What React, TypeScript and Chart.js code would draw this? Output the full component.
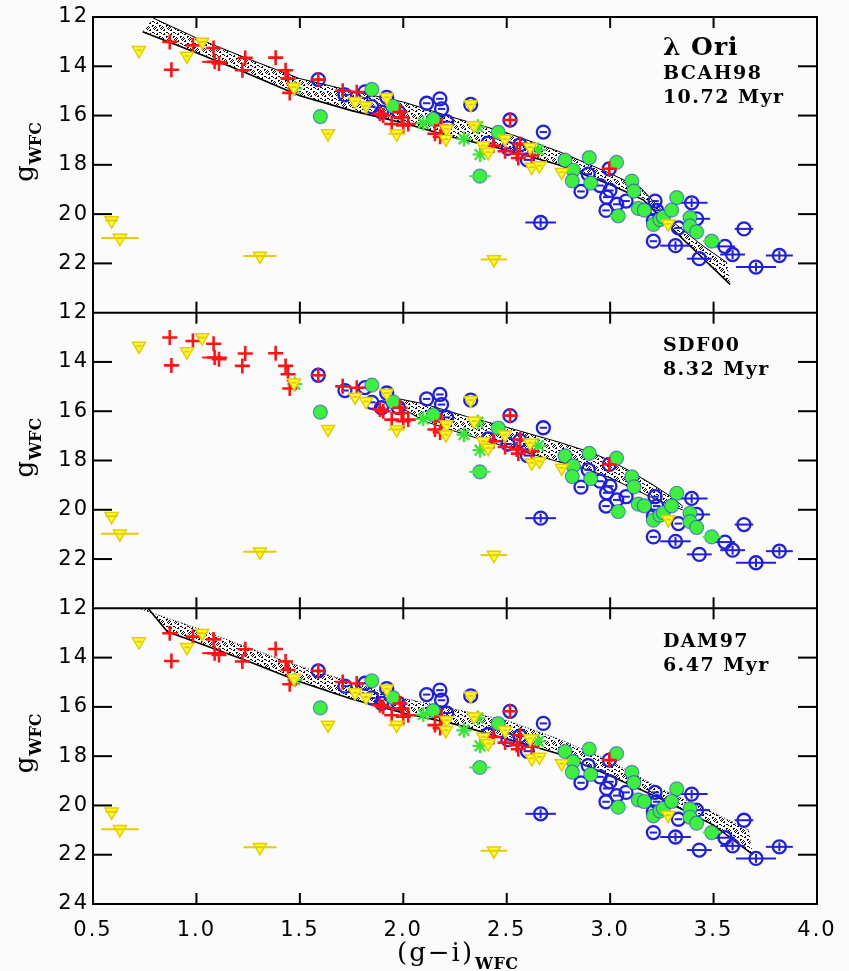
import React, { useEffect, useRef } from 'react';
import { Chart, registerables } from 'chart.js';
Chart.register(...registerables);

// ---------- axis ----------
const X_MIN = 0.5;
const X_MAX = 4.0;
const X_STEP = 0.5;
const Y_MIN = 12;
const Y_MAX = 24;
const Y_STEP = 2;

// ---------- panels (top -> bottom) ----------
const panelIds = ['yTop', 'yMid', 'yBot'];
const modelNames = ['BCAH98', 'SDF00', 'DAM97'];
const modelAges = ['10.72 Myr', '8.32 Myr', '6.47 Myr'];
const clusterName = 'λ Ori';

// ---------- observed stars (same in every panel) ----------
// red crosses
const redX = [0.871, 0.983, 1.083, 0.879, 1.088, 1.109, 1.236, 1.222, 1.383, 1.431, 1.443, 1.451, 1.589, 1.707, 1.775, 1.887, 1.903, 1.984, 1.992, 1.944, 2.0, 2.024, 2.153, 2.185, 2.178, 2.435, 2.492, 2.548, 2.516, 2.564, 2.556, 2.621, 2.996];
const redY = [13.01, 13.15, 13.26, 14.14, 13.82, 13.89, 13.66, 14.16, 13.65, 14.16, 14.5, 15.08, 14.54, 14.99, 15.05, 15.93, 16.0, 15.86, 16.07, 16.34, 16.4, 16.34, 16.74, 16.4, 16.86, 17.22, 17.45, 17.55, 16.18, 17.15, 17.72, 17.62, 18.16];
const redErr = [0, 0, 0, 0, 0.06, 0, 0, 0, 0, 0, 0, 0, 0, 0, 0, 0, 0, 0, 0, 0, 0, 0, 0, 0, 0, 0, 0, 0, 0, 0, 0, 0, 0];

// yellow inverted triangles
const yelX = [0.722, 1.028, 0.954, 1.472, 1.636, 1.767, 1.82, 1.92, 1.968, 2.326, 2.209, 2.206, 2.342, 2.387, 2.411, 2.492, 2.613, 2.621, 2.658, 2.766, 3.281, 0.59, 0.63, 1.307, 2.438];
const yelY = [13.35, 13.01, 13.58, 14.84, 16.73, 15.42, 15.6, 15.26, 16.74, 15.55, 16.54, 16.95, 16.4, 17.22, 17.49, 16.95, 17.28, 18.09, 18.03, 18.3, 20.39, 20.26, 20.97, 21.7, 21.84];
const yelErr = [0.012, 0.02, 0.012, 0.012, 0.012, 0.012, 0.012, 0.012, 0.04, 0.012, 0.012, 0.012, 0.012, 0.012, 0.012, 0.012, 0.012, 0.012, 0.012, 0.012, 0.012, 0.03, 0.091, 0.08, 0.064];

// blue open circles
const bluX = [1.589, 1.718, 1.815, 1.848, 1.92, 1.895, 1.976, 2.113, 2.177, 2.185, 2.21, 2.326, 2.41, 2.516, 2.506, 2.564, 2.677, 2.6, 2.894, 2.859, 2.996, 2.951, 2.983, 2.999, 2.98, 3.032, 3.077, 3.217, 3.394, 2.664, 3.225, 3.209, 3.33, 3.418, 3.647, 3.209, 3.316, 3.555, 3.592, 3.431, 3.705, 3.818];
const bluY = [14.54, 15.16, 15.04, 15.64, 15.26, 15.86, 15.85, 15.5, 15.32, 15.73, 16.25, 15.55, 17.12, 16.18, 17.33, 17.19, 16.67, 17.8, 18.38, 19.08, 18.16, 18.84, 19.31, 19.04, 19.85, 19.6, 19.47, 19.47, 19.54, 20.34, 19.85, 20.26, 20.56, 20.19, 20.6, 21.1, 21.28, 21.31, 21.64, 21.81, 22.15, 21.68];
const bluErr = [0.018, 0.018, 0.018, 0.018, 0.018, 0.018, 0.018, 0.018, 0.018, 0.018, 0.018, 0.018, 0.018, 0.018, 0.018, 0.018, 0.018, 0.018, 0.018, 0.018, 0.018, 0.018, 0.018, 0.018, 0.018, 0.018, 0.018, 0.018, 0.077, 0.074, 0.018, 0.018, 0.018, 0.065, 0.045, 0.018, 0.074, 0.048, 0.06, 0.06, 0.097, 0.065];
const bluVErr = [0, 0, 0, 0, 0, 0, 0, 0, 0, 0, 0, 0, 0, 0, 0, 0, 0, 0, 0, 0, 0, 0, 0, 0, 0, 0, 0, 0, 0.18, 0.18, 0, 0, 0, 0, 0, 0, 0.18, 0, 0.18, 0, 0.18, 0.18];

// green filled circles
const grnX = [1.599, 1.848, 1.95, 2.145, 2.37, 2.459, 2.782, 2.822, 2.817, 2.899, 2.906, 3.031, 3.105, 3.115, 3.136, 3.165, 3.322, 3.209, 3.241, 3.257, 3.297, 3.386, 3.386, 3.418, 3.491, 3.039];
const grnY = [16.04, 14.94, 15.62, 16.15, 18.46, 16.68, 17.81, 18.22, 18.65, 17.71, 18.74, 17.9, 18.66, 19.07, 19.77, 19.84, 19.33, 20.42, 20.22, 20.12, 19.84, 20.14, 20.48, 20.72, 21.1, 20.07];
const grnErr = [0, 0, 0, 0, 0.052, 0, 0, 0, 0, 0, 0, 0, 0, 0, 0, 0, 0, 0, 0, 0, 0, 0, 0, 0, 0.044, 0.04];

// green asterisks
const astX = [1.475, 2.097, 2.293, 2.36, 2.371, 2.653];
const astY = [14.9, 16.31, 16.95, 16.45, 17.58, 17.4];

// ---------- isochrone bands ----------
const bcahUpX = [0.79, 1.0, 1.25, 1.5, 1.75, 2.0, 2.25, 2.5, 2.75, 3.0, 3.15, 3.3, 3.45, 3.565];
const bcahUpY = [12.04, 12.85, 13.7, 14.5, 15.0, 15.45, 16.1, 16.7, 17.45, 18.35, 18.95, 20.3, 21.3, 21.97];
const bcahLoX = [0.74, 1.0, 1.25, 1.5, 1.75, 2.0, 2.25, 2.5, 2.75, 3.0, 3.16, 3.35, 3.58];
const bcahLoY = [12.6, 13.45, 14.3, 15.2, 15.8, 16.3, 16.9, 17.4, 18.0, 18.8, 19.42, 21.0, 22.85];

const sdfUpX = [1.98, 2.1, 2.3, 2.5, 2.75, 2.9, 3.0, 3.1, 3.2, 3.3, 3.35];
const sdfUpY = [15.5, 15.7, 16.2, 16.65, 17.25, 17.65, 18.0, 18.45, 18.95, 19.5, 19.85];
const sdfLoX = [2.0, 2.1, 2.3, 2.5, 2.75, 2.9, 3.0, 3.1, 3.2, 3.3, 3.35];
const sdfLoY = [15.9, 16.4, 16.95, 17.45, 18.05, 18.4, 18.7, 19.1, 19.5, 19.85, 20.0];

const damUpX = [0.72, 1.0, 1.25, 1.5, 1.75, 2.0, 2.25, 2.5, 2.75, 3.0, 3.25, 3.5, 3.67];
const damUpY = [12.0, 12.8, 13.6, 14.35, 15.0, 15.65, 16.1, 16.55, 17.3, 18.2, 19.35, 20.3, 21.0];
const damLoX = [0.766, 0.86, 1.0, 1.25, 1.5, 1.75, 2.0, 2.25, 2.5, 2.75, 3.0, 3.25, 3.5, 3.69];
const damLoY = [12.0, 12.95, 13.38, 14.15, 14.98, 15.68, 16.25, 16.7, 17.3, 17.9, 18.8, 19.75, 20.8, 22.0];

const bandUpX = [bcahUpX, sdfUpX, damUpX];
const bandUpY = [bcahUpY, sdfUpY, damUpY];
const bandLoX = [bcahLoX, sdfLoX, damLoX];
const bandLoY = [bcahLoY, sdfLoY, damLoY];

// ---------- helpers ----------
const pts = (xs: number[], ys: number[], xe?: number[], ye?: number[]) =>
  xs.map((x, i) => ({ x, y: ys[i], xerr: xe ? xe[i] : 0, yerr: ye ? ye[i] : 0 }));
const line = (xs: number[], ys: number[]) => xs.map((x, i) => ({ x, y: ys[i] }));

function makeStipple(ctx: CanvasRenderingContext2D) {
  const c = document.createElement('canvas');
  c.width = 14;
  c.height = 11;
  const g = c.getContext('2d')!;
  g.fillStyle = '#000';
  for (let a = 0; a < 14; a++) {
    for (let b = 0; b < 11; b++) {
      if ((a * 5 + b * 3 + ((a * b) % 7)) % 7 < 2) g.fillRect(a, b, 1, 1);
    }
  }
  return ctx.createPattern(c, 'repeat') as CanvasPattern;
}

const errorBars = {
  id: 'errorBars',
  afterDatasetDraw(chart: any, args: any) {
    const ds = chart.data.datasets[args.index];
    if (!ds.errColor) return;
    const xs = chart.scales.x;
    const ys = chart.scales[ds.yAxisID];
    const ctx = chart.ctx;
    ctx.save();
    ctx.strokeStyle = ds.errColor;
    ctx.lineWidth = 2;
    ds.data.forEach((p: any) => {
      const px = xs.getPixelForValue(p.x);
      const py = ys.getPixelForValue(p.y);
      if (p.xerr) {
        ctx.beginPath();
        ctx.moveTo(xs.getPixelForValue(p.x - p.xerr), py);
        ctx.lineTo(xs.getPixelForValue(p.x + p.xerr), py);
        ctx.stroke();
      }
      if (p.yerr) {
        ctx.beginPath();
        ctx.moveTo(px, ys.getPixelForValue(p.y - p.yerr));
        ctx.lineTo(px, ys.getPixelForValue(p.y + p.yerr));
        ctx.stroke();
      }
    });
    ctx.restore();
  },
};

const frame = {
  id: 'frame',
  beforeDraw(chart: any) {
    const ctx = chart.ctx;
    ctx.save();
    ctx.fillStyle = '#fbfbfb';
    ctx.fillRect(0, 0, chart.width, chart.height);
    ctx.restore();
    // slightly wider spacing for the tick labels drawn next
    ctx.letterSpacing = '2px';
  },
  beforeDatasetsDraw(chart: any) {
    chart.ctx.letterSpacing = '0px';
  },
  afterDraw(chart: any) {
    const ctx = chart.ctx;
    const ca = chart.chartArea;
    const xs = chart.scales.x;
    ctx.save();
    ctx.letterSpacing = '0px';
    ctx.strokeStyle = '#000';
    ctx.lineWidth = 2;
    const seg = (x1: number, y1: number, x2: number, y2: number) => {
      ctx.beginPath();
      ctx.moveTo(x1, y1);
      ctx.lineTo(x2, y2);
      ctx.stroke();
    };
    ctx.strokeRect(ca.left, ca.top, ca.right - ca.left, ca.bottom - ca.top);
    panelIds.forEach((id, k) => {
      const s = chart.scales[id];
      seg(ca.left, s.top, ca.right, s.top);
      xs.ticks.forEach((t: any) => {
        const px = xs.getPixelForValue(t.value);
        seg(px, s.top, px, s.top + 11);
        seg(px, s.bottom, px, s.bottom - 11);
      });
      s.ticks.forEach((t: any) => {
        if (t.value === Y_MIN || t.value === Y_MAX) return;
        const py = s.getPixelForValue(t.value);
        seg(ca.left, py, ca.left + 19, py);
        seg(ca.right, py, ca.right - 19, py);
      });

      // model labels
      ctx.fillStyle = '#000';
      ctx.textAlign = 'left';
      ctx.textBaseline = 'alphabetic';
      const tx = xs.getPixelForValue(3.255);
      let lines: string[] = [modelNames[k], modelAges[k]];
      let ly: number[] = [13.56, 14.53];
      if (k === 0) {
        lines = [clusterName, modelNames[k], modelAges[k]];
        ly = [13.54, 14.51, 15.49];
      }
      lines.forEach((txt, i) => {
        if (k === 0 && i === 0) {
          ctx.font = 'bold 25px "DejaVu Serif"';
          ctx.letterSpacing = '1px';
        } else {
          ctx.font = 'bold 19px "DejaVu Serif"';
          ctx.letterSpacing = '1.5px';
        }
        ctx.fillText(txt, tx, s.getPixelForValue(ly[i]));
      });
      ctx.letterSpacing = '0px';

      // y title g_WFC
      const cy = (s.top + s.bottom) / 2 + 17;
      ctx.save();
      ctx.translate(33, cy);
      ctx.rotate(-Math.PI / 2);
      ctx.font = '26px "DejaVu Serif"';
      ctx.fillText('g', 0, 0);
      const gw = ctx.measureText('g').width;
      ctx.font = 'bold 16px "DejaVu Serif"';
      ctx.fillText('WFC', gw + 1, 8);
      ctx.restore();
    });

    // x title (g-i)_WFC
    ctx.fillStyle = '#000';
    ctx.font = '26px "DejaVu Serif"';
    ctx.textAlign = 'left';
    ctx.letterSpacing = '2px';
    ctx.fillText('(g\u2212i)', 397, 961);
    const w = ctx.measureText('(g\u2212i)').width;
    ctx.letterSpacing = '0.5px';
    ctx.font = 'bold 16px "DejaVu Serif"';
    ctx.fillText('WFC', 397 + w + 1, 969);
    ctx.restore();
  },
};

const tickFont = { family: '"DejaVu Sans"', size: 21 };

const yAxis = (showLast: boolean) => ({
  type: 'linear',
  position: 'left',
  stack: 'panels',
  stackWeight: 1,
  reverse: true,
  min: Y_MIN,
  max: Y_MAX,
  ticks: {
    stepSize: Y_STEP,
    autoSkip: false,
    padding: 4,
    color: '#000',
    font: tickFont,
    callback: (v: any) => (v === Y_MAX && !showLast ? '' : String(v)),
  },
  grid: { display: false, drawTicks: false },
  border: { display: false },
  afterFit: (s: any) => {
    s.width = 93;
  },
});

export default function App() {
  const ref = useRef<HTMLCanvasElement>(null);
  useEffect(() => {
    const canvas = ref.current!;
    const ctx = canvas.getContext('2d')!;
    const stipple = makeStipple(ctx);

    const pointSets: any[] = [];
    const bandSets: any[] = [];
    panelIds.forEach((id, k) => {
      pointSets.push(
        {
          data: pts(yelX, yelY, yelErr),
          yAxisID: id,
          pointStyle: 'triangle',
          rotation: 180,
          radius: 7.5,
          backgroundColor: '#ffff30',
          borderColor: '#e6cc00',
          borderWidth: 1.5,
          errColor: '#e6cc00',
        },
        {
          data: pts(redX, redY, redErr),
          yAxisID: id,
          pointStyle: 'cross',
          radius: 7.5,
          borderColor: '#ff1414',
          borderWidth: 2.6,
          errColor: '#ff1414',
        },
        {
          data: pts(astX, astY),
          yAxisID: id,
          pointStyle: 'star',
          radius: 7.5,
          borderColor: '#33e833',
          borderWidth: 2.2,
        },
        {
          data: pts(grnX, grnY, grnErr),
          yAxisID: id,
          pointStyle: 'circle',
          radius: 7,
          backgroundColor: '#3df03d',
          borderColor: 'rgba(50,60,220,0.6)',
          borderWidth: 1.2,
          errColor: '#3df03d',
        },
        {
          data: pts(bluX, bluY, bluErr, bluVErr),
          yAxisID: id,
          pointStyle: 'circle',
          radius: 6.5,
          backgroundColor: 'rgba(0,0,0,0)',
          borderColor: '#1f1fe0',
          borderWidth: 2.3,
          errColor: '#1f1fe0',
        }
      );
      const up = line(bandUpX[k], bandUpY[k]);
      const lo = line(bandLoX[k], bandLoY[k]);
      bandSets.push(
        {
          type: 'line',
          data: lo,
          yAxisID: id,
          showLine: true,
          pointRadius: 0,
          borderColor: '#000',
          borderWidth: k === 1 ? 1 : 1.6,
          fill: false,
        },
        {
          type: 'line',
          data: up,
          yAxisID: id,
          showLine: true,
          pointRadius: 0,
          borderColor: '#000',
          borderWidth: 1,
          borderDash: k === 2 ? [1, 2] : [],
          fill: false,
        },
        {
          type: 'line',
          data: [...up, ...lo.slice().reverse()],
          yAxisID: id,
          showLine: true,
          pointRadius: 0,
          borderWidth: 0,
          borderColor: 'rgba(0,0,0,0)',
          backgroundColor: stipple,
          fill: 'shape',
        }
      );
    });

    const chart = new Chart(canvas, {
      type: 'scatter',
      data: { datasets: [...pointSets, ...bandSets] as any },
      options: {
        responsive: false,
        animation: false,
        devicePixelRatio: 1,
        layout: { padding: { top: 17, right: 32, left: 0, bottom: 0 } },
        plugins: { legend: { display: false }, tooltip: { enabled: false } },
        scales: {
          x: {
            type: 'linear',
            min: X_MIN,
            max: X_MAX,
            ticks: {
              stepSize: X_STEP,
              color: '#000',
              font: tickFont,
              padding: 14,
              callback: (v: any) => Number(v).toFixed(1),
            },
            grid: { display: false, drawTicks: false },
            border: { display: false },
            afterFit: (s: any) => {
              s.height = 67;
            },
          },
          yBot: yAxis(true),
          yMid: yAxis(false),
          yTop: yAxis(false),
        } as any,
      },
      plugins: [frame, errorBars],
    } as any);
    return () => chart.destroy();
  }, []);

  return (
    <div style={{ position: 'absolute', left: 0, top: 0, width: 849, height: 971, background: '#fbfbfb' }}>
      <canvas ref={ref} width={849} height={971} style={{ display: 'block' }} />
    </div>
  );
}
